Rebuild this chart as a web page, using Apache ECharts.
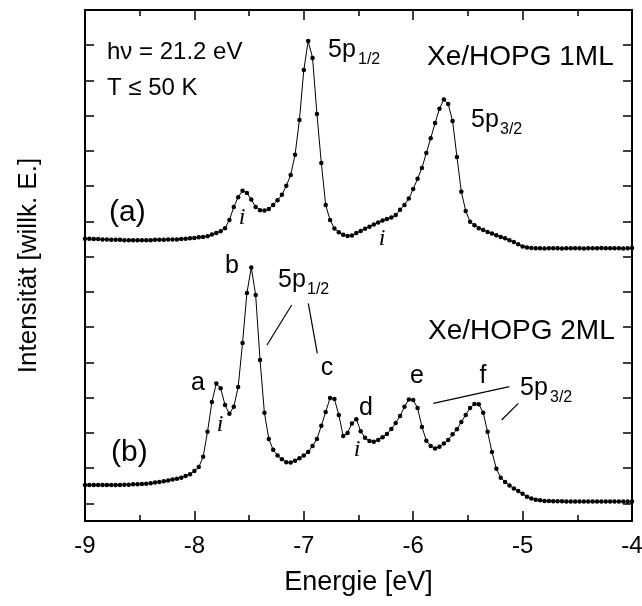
<!DOCTYPE html>
<html><head><meta charset="utf-8">
<script src="https://cdn.jsdelivr.net/npm/echarts@6/dist/echarts.min.js"></script>
<style>html,body{margin:0;padding:0;background:#fff}#c{width:642px;height:606px}</style>
</head><body><div id="c"></div>
<script>
// Binding energy grid [eV]
const energies = [
-9.00,-8.96,-8.92,-8.88,-8.84,-8.80,-8.76,-8.72,-8.68,-8.64,
-8.60,-8.56,-8.52,-8.48,-8.44,-8.40,-8.36,-8.32,-8.28,-8.24,
-8.20,-8.16,-8.12,-8.08,-8.04,-8.00,-7.96,-7.92,-7.88,-7.84,
-7.80,-7.76,-7.72,-7.68,-7.64,-7.60,-7.56,-7.52,-7.48,-7.44,
-7.40,-7.36,-7.32,-7.28,-7.24,-7.20,-7.16,-7.12,-7.08,-7.04,
-7.00,-6.96,-6.92,-6.88,-6.84,-6.80,-6.76,-6.72,-6.68,-6.64,
-6.60,-6.56,-6.52,-6.48,-6.44,-6.40,-6.36,-6.32,-6.28,-6.24,
-6.20,-6.16,-6.12,-6.08,-6.04,-6.00,-5.96,-5.92,-5.88,-5.84,
-5.80,-5.76,-5.72,-5.68,-5.64,-5.60,-5.56,-5.52,-5.48,-5.44,
-5.40,-5.36,-5.32,-5.28,-5.24,-5.20,-5.16,-5.12,-5.08,-5.04,
-5.00,-4.96,-4.92,-4.88,-4.84,-4.80,-4.76,-4.72,-4.68,-4.64,
-4.60,-4.56,-4.52,-4.48,-4.44,-4.40,-4.36,-4.32,-4.28,-4.24,
-4.20,-4.16,-4.12,-4.08,-4.04,-4.00];

// (a) Xe/HOPG 1ML, intensity (arb. units, offset)
const spec1ML = [
8.01,8.01,8.00,8.00,7.99,7.99,7.98,7.98,7.98,7.97,
7.97,7.97,7.97,7.97,7.97,7.97,7.98,7.98,7.98,7.99,
7.99,7.99,8.00,8.01,8.02,8.03,8.05,8.06,8.08,8.13,
8.17,8.22,8.31,8.54,8.91,9.19,9.37,9.31,9.12,8.91,
8.82,8.81,8.85,8.97,9.10,9.26,9.51,9.82,10.39,11.38,
12.80,13.62,13.14,11.55,10.16,8.97,8.54,8.30,8.19,8.12,
8.09,8.10,8.17,8.23,8.29,8.35,8.41,8.47,8.53,8.57,
8.61,8.68,8.83,8.97,9.15,9.42,9.71,10.02,10.44,10.86,
11.29,11.70,11.96,11.83,11.35,10.33,9.34,8.80,8.49,8.39,
8.31,8.26,8.20,8.16,8.11,8.06,8.02,7.97,7.92,7.85,
7.79,7.76,7.75,7.74,7.74,7.73,7.74,7.74,7.74,7.73,
7.74,7.74,7.74,7.74,7.73,7.74,7.74,7.74,7.75,7.74,
7.74,7.74,7.74,7.73,7.74,7.75];

// (b) Xe/HOPG 2ML
const spec2ML = [
1.02,1.02,1.02,1.02,1.02,1.02,1.02,1.02,1.02,1.03,
1.03,1.04,1.04,1.05,1.06,1.07,1.09,1.11,1.13,1.15,
1.18,1.20,1.23,1.28,1.33,1.42,1.53,1.82,2.53,3.38,
3.90,3.77,3.29,3.04,3.24,3.80,5.05,6.47,7.19,6.41,
4.57,3.07,2.33,2.02,1.86,1.75,1.67,1.66,1.71,1.78,
1.86,1.96,2.13,2.33,2.70,3.09,3.49,3.46,3.01,2.41,
2.50,2.77,2.89,2.55,2.36,2.27,2.25,2.30,2.38,2.47,
2.61,2.78,2.98,3.24,3.45,3.43,3.21,2.67,2.28,2.13,
2.06,2.11,2.20,2.30,2.46,2.60,2.81,3.01,3.21,3.32,
3.31,3.07,2.53,1.96,1.48,1.23,1.11,1.01,0.92,0.85,
0.77,0.69,0.64,0.60,0.59,0.57,0.57,0.56,0.56,0.56,
0.55,0.55,0.55,0.55,0.55,0.55,0.55,0.55,0.55,0.55,
0.55,0.55,0.55,0.55,0.55,0.55];

const xMin = -9, xMax = -4;
const yMin = 0, yMax = 14.5;

const chart = echarts.init(document.getElementById('c'), null, {renderer: 'canvas'});
const F = '"Liberation Sans", Arial, sans-serif';
const SERIF = '"Liberation Serif", "Times New Roman", serif';
const pairs = ys => energies.map((e, i) => [e, ys[i]]);
const line = {show: true, lineStyle: {color: '#000', width: 2}};

function txt(text, x, y, size, align, extra) {
  return Object.assign({
    type: 'text', x: x, y: y, silent: true,
    style: {text: text, font: size + 'px ' + F, fill: '#000',
            textAlign: align || 'left', textVerticalAlign: 'middle', verticalAlign: 'middle', align: align || 'left'}
  }, extra || {});
}
function itl(x, y) {
  return {type: 'text', x: x, y: y, silent: true,
    style: {text: 'i', font: 'italic 24px ' + SERIF, fill: '#000', textAlign: 'center', align: 'center',
            textVerticalAlign: 'middle', verticalAlign: 'middle'}};
}
function seg(x1, y1, x2, y2) {
  return {type: 'line', silent: true, shape: {x1: x1, y1: y1, x2: x2, y2: y2},
          style: {stroke: '#000', lineWidth: 1.2}};
}

const xCommon = {
  type: 'value', min: xMin, max: xMax, interval: 1,
  axisLine: line,
  axisTick: {show: true, inside: true, length: 10, lineStyle: {color: '#000', width: 1.5}},
  minorTick: {show: true, splitNumber: 2, length: 6, lineStyle: {color: '#000', width: 1.5}},
  splitLine: {show: false}, minorSplitLine: {show: false}
};
const yTicks = {
  type: 'value', inverse: true, min: yMin, max: yMax, interval: 1,
  axisLabel: {show: false}, splitLine: {show: false},
  axisTick: {show: true, inside: true, length: 9, lineStyle: {color: '#000', width: 1.5}}
};

chart.setOption({
  animation: false,
  backgroundColor: '#fff',
  grid: {left: 85, top: 10, width: 547, height: 511, containLabel: false, outerBoundsMode: 'none'},
  xAxis: [
    Object.assign({}, xCommon, {
      position: 'bottom',
      axisLabel: {show: true, color: '#000', fontSize: 24, fontFamily: F, margin: 13},
      name: 'Energie [eV]', nameLocation: 'middle', nameGap: 48,
      nameTextStyle: {color: '#000', fontSize: 27, fontFamily: F}
    }),
    Object.assign({}, xCommon, {position: 'top', axisLabel: {show: false}})
  ],
  yAxis: [
    {type: 'value', min: yMin, max: yMax, position: 'left',
     axisLine: line, axisTick: {show: false}, axisLabel: {show: false}, splitLine: {show: false},
     name: 'Intensität [willk. E.]', nameLocation: 'middle', nameGap: 43,
     nameTextStyle: {color: '#000', fontSize: 26, fontFamily: F}},
    Object.assign({}, yTicks, {position: 'left', axisLine: {show: false}}),
    Object.assign({}, yTicks, {position: 'right', axisLine: line})
  ],
  series: [
    {name: 'Xe/HOPG 1ML', type: 'line', xAxisIndex: 0, yAxisIndex: 0, data: pairs(spec1ML),
     symbol: 'circle', symbolSize: 4.5, showSymbol: true, lineStyle: {color: '#000', width: 1},
     itemStyle: {color: '#000'}, z: 3},
    {name: 'Xe/HOPG 2ML', type: 'line', xAxisIndex: 0, yAxisIndex: 0, data: pairs(spec2ML),
     symbol: 'circle', symbolSize: 4.5, showSymbol: true, lineStyle: {color: '#000', width: 1},
     itemStyle: {color: '#000'}, z: 3}
  ],
  graphic: [
    txt('h\u03bd = 21.2 eV', 107, 52, 24),
    txt('T \u2264 50 K', 107, 88, 24),
    txt('5p', 328, 50, 25), txt('1/2', 358, 60, 16),
    txt('Xe/HOPG 1ML', 427, 57, 28),
    txt('5p', 471, 120, 25), txt('3/2', 500, 130, 16),
    txt('(a)', 109, 213, 30),
    itl(242, 218), itl(382, 239),
    txt('(b)', 111, 453, 30),
    txt('a', 198, 383, 25, 'center'),
    itl(220, 425),
    txt('b', 232, 266, 25, 'center'),
    txt('5p', 278, 280, 25), txt('1/2', 307, 290, 16),
    seg(291.7, 305, 267, 345), seg(308.3, 303.3, 317.3, 353.3),
    txt('c', 327, 368, 25, 'center'),
    txt('d', 366, 408, 25, 'center'),
    itl(357, 450),
    txt('e', 417, 376, 25, 'center'),
    txt('f', 483, 376, 25, 'center'),
    txt('5p', 520, 388, 25), txt('3/2', 550, 398, 16),
    seg(433.3, 403.3, 509.3, 386.7), seg(501.7, 420, 518.3, 403.3),
    txt('Xe/HOPG 2ML', 428, 331, 28)
  ]
});
</script></body></html>
